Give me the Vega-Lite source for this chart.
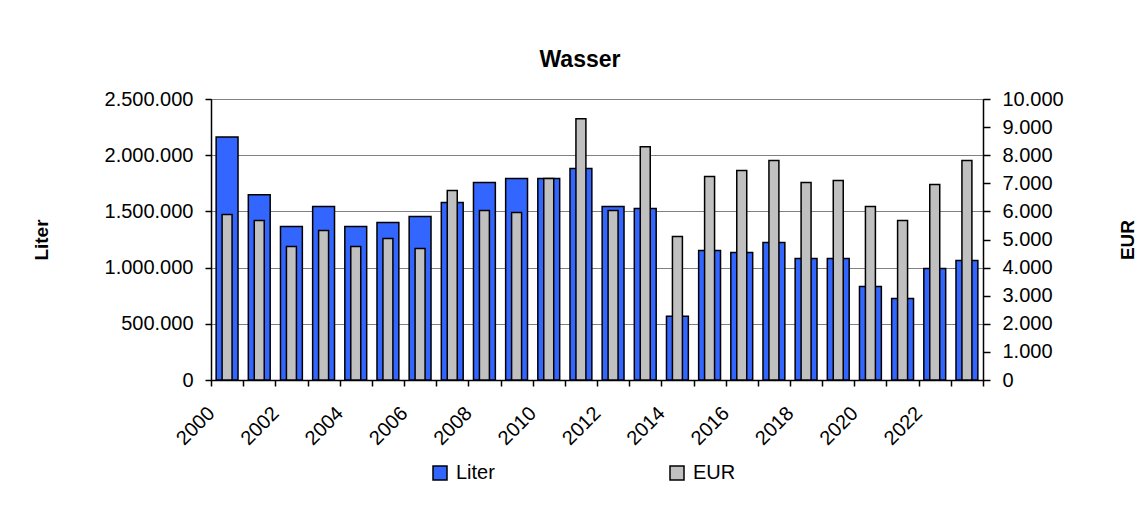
{
  "$schema": "https://vega.github.io/schema/vega-lite/v6.json",
  "width": 772,
  "height": 281,
  "autosize": {"type": "none"},
  "padding": {"left": 211, "top": 99, "right": 161, "bottom": 126},
  "background": "white",
  "title": {"text": "Wasser", "fontSize": 23, "fontWeight": "bold", "font": "Liberation Sans", "color": "#000", "anchor": "middle", "offset": 17, "dx": -17},
  "data": {"values": [
    {"year": 2000, "Liter": 2161000, "EUR": 5889},
    {"year": 2001, "Liter": 1648000, "EUR": 5675},
    {"year": 2002, "Liter": 1366000, "EUR": 4749},
    {"year": 2003, "Liter": 1544000, "EUR": 5319},
    {"year": 2004, "Liter": 1366000, "EUR": 4749},
    {"year": 2005, "Liter": 1401000, "EUR": 5034},
    {"year": 2006, "Liter": 1455000, "EUR": 4678},
    {"year": 2007, "Liter": 1579000, "EUR": 6744},
    {"year": 2008, "Liter": 1757000, "EUR": 6031},
    {"year": 2009, "Liter": 1793000, "EUR": 5960},
    {"year": 2010, "Liter": 1793000, "EUR": 7171},
    {"year": 2011, "Liter": 1882000, "EUR": 9298},
    {"year": 2012, "Liter": 1544000, "EUR": 6031},
    {"year": 2013, "Liter": 1526000, "EUR": 8301},
    {"year": 2014, "Liter": 567000, "EUR": 5105},
    {"year": 2015, "Liter": 1152000, "EUR": 7243},
    {"year": 2016, "Liter": 1134000, "EUR": 7456},
    {"year": 2017, "Liter": 1223000, "EUR": 7813},
    {"year": 2018, "Liter": 1080000, "EUR": 7029},
    {"year": 2019, "Liter": 1080000, "EUR": 7100},
    {"year": 2020, "Liter": 831000, "EUR": 6174},
    {"year": 2021, "Liter": 724000, "EUR": 5675},
    {"year": 2022, "Liter": 991000, "EUR": 6958},
    {"year": 2023, "Liter": 1063000, "EUR": 7813}
  ]},
  "encoding": {
    "x": {
      "field": "year", "type": "ordinal",
      "scale": {"paddingInner": 0, "paddingOuter": 0},
      "axis": {
        "title": null,
        "tickBand": "extent",
        "labelExpr": "datum.value % 2 == 0 ? datum.label : ''",
        "labelAngle": -45,
        "labelAlign": "right",
        "labelBaseline": "middle",
        "labelOffset": -16,
        "labelPadding": 24,
        "tickSize": 6,
        "labelFontSize": 20,
        "domainColor": "#000",
        "domainWidth": 1.5,
        "tickColor": "#000",
        "tickWidth": 1.5,
        "grid": false
      }
    }
  },
  "layer": [
    {
      "mark": {"type": "bar", "width": {"band": 0.68}, "stroke": "#000", "strokeWidth": 1.5},
      "encoding": {
        "y": {
          "field": "Liter", "type": "quantitative",
          "scale": {"domain": [0, 2500000], "nice": false, "zero": true},
          "axis": {
            "title": "Liter",
            "orient": "left",
            "values": [0, 500000, 1000000, 1500000, 2000000, 2500000],
            "format": ",d",
            "grid": true,
            "gridColor": "#808080",
            "gridWidth": 1,
            "gridOpacity": 1,
            "tickSize": 6,
            "labelPadding": 12,
            "titlePadding": 53,
            "titleFontSize": 19
          }
        },
        "color": {"datum": "Liter", "type": "nominal",
          "scale": {"domain": ["Liter", "EUR"], "range": ["#3366FF", "#C0C0C0"]},
          "legend": {
            "title": null,
            "orient": "none",
            "direction": "horizontal",
            "legendX": 219,
            "legendY": 364,
            "symbolType": "square",
            "symbolSize": 196,
            "symbolStrokeColor": "#000",
            "symbolStrokeWidth": 1.5,
            "symbolOpacity": 1,
            "labelFontSize": 20,
            "labelOffset": 6,
            "columnPadding": 172,
            "labelColor": "#000"
          }
        }
      }
    },
    {
      "mark": {"type": "bar", "width": {"band": 0.31}, "stroke": "#000", "strokeWidth": 1.5},
      "encoding": {
        "y": {
          "field": "EUR", "type": "quantitative",
          "scale": {"domain": [0, 10000], "nice": false, "zero": true},
          "axis": {
            "title": "EUR",
            "orient": "right",
            "values": [0, 1000, 2000, 3000, 4000, 5000, 6000, 7000, 8000, 9000, 10000],
            "format": ",d",
            "grid": false,
            "tickSize": 7,
            "labelPadding": 12,
            "titleAngle": -90,
            "titleBaseline": "top",
            "titlePadding": 55,
            "titleFontSize": 19
          }
        },
        "color": {"datum": "EUR", "type": "nominal"}
      }
    }
  ],
  "resolve": {"scale": {"y": "independent"}},
  "config": {
    "locale": {"number": {"decimal": ",", "thousands": ".", "grouping": [3], "currency": ["", " €"]}},
    "font": "Liberation Sans",
    "view": {"stroke": "#000", "strokeWidth": 1},
    "axis": {
      "labelFont": "Liberation Sans",
      "labelFontSize": 20,
      "labelColor": "#000",
      "titleFont": "Liberation Sans",
      "titleFontWeight": "bold",
      "titleColor": "#000",
      "domainColor": "#000",
      "domainWidth": 1.5,
      "tickColor": "#000",
      "tickWidth": 1.5
    },
    "legend": {"labelFont": "Liberation Sans"}
  }
}
